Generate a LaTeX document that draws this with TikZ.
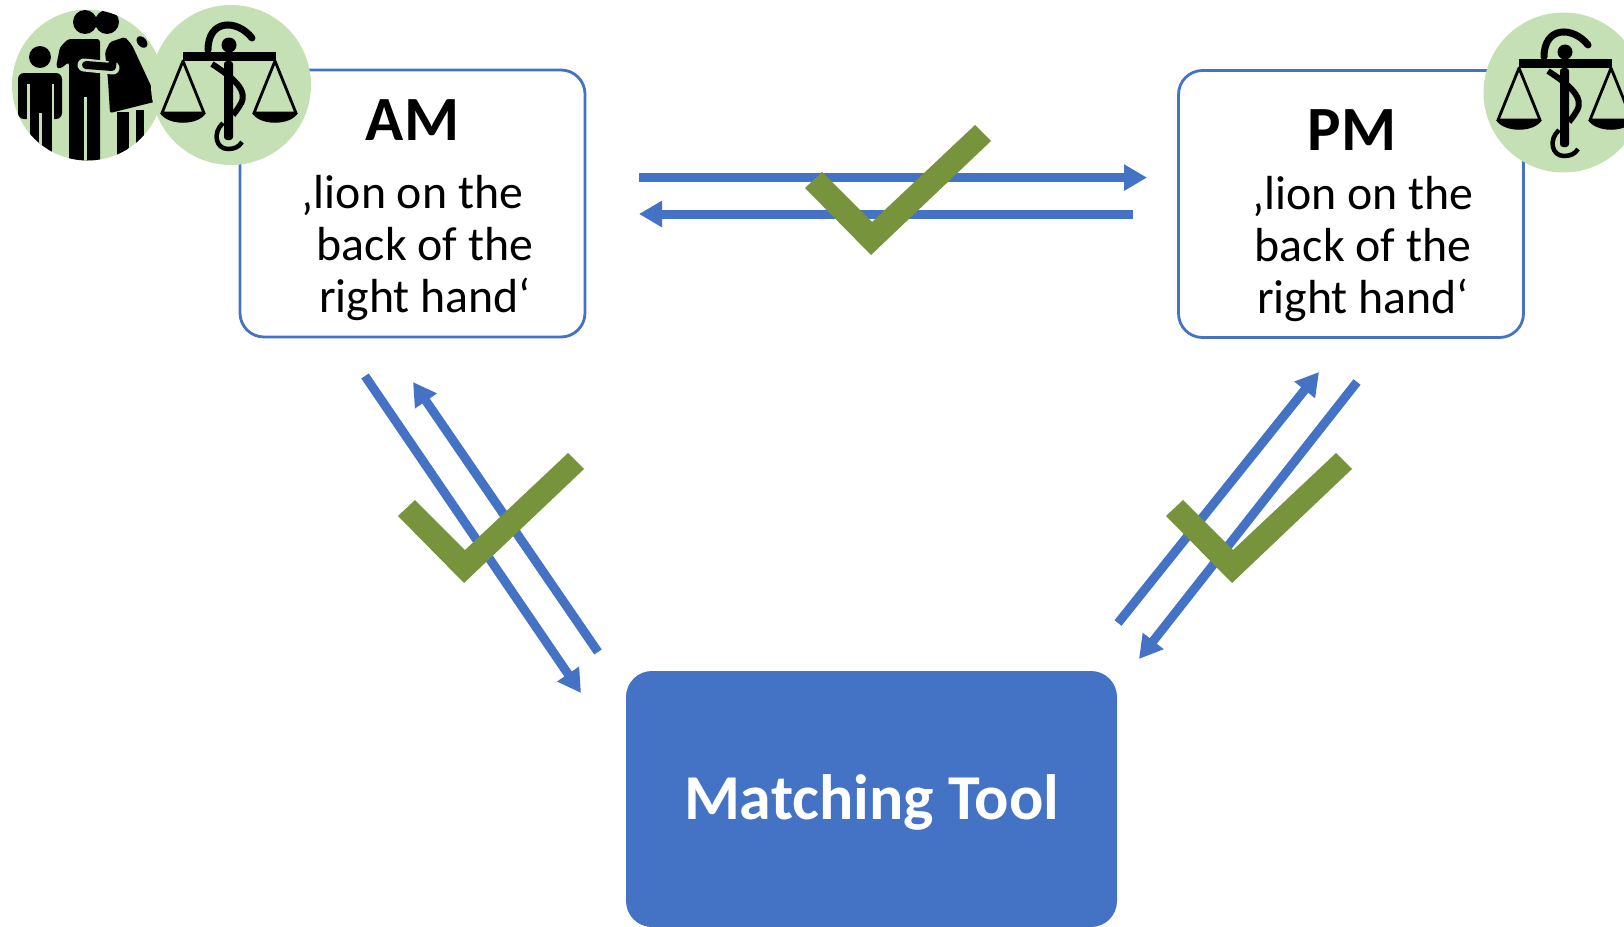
\documentclass[tikz,border=0pt]{standalone}
\usepackage{fontspec}
\setmainfont{Carlito}
\usetikzlibrary{arrows.meta}

\definecolor{toolblue}{HTML}{4472C4}
\definecolor{tickgreen}{HTML}{77933C}
\definecolor{dotgreen}{HTML}{C5E0B4}

\tikzset{
	rolebox/.style={draw=toolblue, line width=2.8pt, rounded corners=24pt, fill=white, minimum width=345pt, minimum height=267pt, inner sep=0pt},
	toolbox/.style={fill=toolblue, rounded corners=26pt, minimum width=491pt, minimum height=256pt, inner sep=0pt},
	tooltitle/.style={inner sep=0pt, text=white, font=\fontsize{64}{70}\selectfont\bfseries},
	roletitle/.style={inner sep=0pt, font=\fontsize{63}{70}\selectfont\bfseries},
	rolebody/.style={inner sep=0pt, align=center, font=\fontsize{47.8}{52}\selectfont},
	greendot/.style={circle, fill=dotgreen, minimum size=160pt, inner sep=0pt},
	flow/.style={draw=toolblue, line width=9pt, -{Triangle[length=23pt,width=25pt]}},
}

\newcommand{\pchecktick}[2]{
	\fill[tickgreen] (#1-66,#2-67) -- (#1-49,#2-83) -- (#1+1,#2-33) -- (#1+104,#2-130) -- (#1+120,#2-114) -- (#1,#2) -- cycle;
}

\newcommand{\pscales}[2]{
	\begin{scope}[shift={(#1,#2)}]
	\fill[black] (-49,-33) rectangle (44,-24);
	\fill[black] (-3,-40) circle (7.5);
	\draw[line width=7pt, line cap=round] (-24,-35) .. controls (-24,-66) and (5,-66) .. (20,-47);
	\fill[black, rounded corners=3pt] (-8,-24) rectangle (1,55);
	\draw[line width=6pt] (-20,-21) .. controls (0,-8) and (18,6) .. (8,20) .. controls (6,24) and (3,27) .. (1,30);
	\draw[line width=4.5pt] (-9,38) .. controls (-20,48) and (-16,64) .. (-4,64) .. controls (2,64) and (7,62) .. (10,57);
	\foreach \panx in {-49,43} {
		\draw[line width=2.8pt, line join=round] (\panx,-24) -- (\panx-21,28) -- (\panx+21,28) -- cycle;
		\fill[black] (\panx-23,28) .. controls (\panx-15,41) and (\panx+15,41) .. (\panx+23,28) -- cycle;
	}
	\end{scope}
}

\newcommand{\pfamily}{
	\begin{scope}
	\clip (87.5,85) circle (75.5);
	% child
	\fill[black] (40,57) circle (11);
	\fill[black, rounded corners=6pt] (18,73) rectangle (62,119);
	\fill[black] (30,80) rectangle (52,165);
	\draw[dotgreen, line width=3pt] (28.5,84) -- (28.5,125);
	\draw[dotgreen, line width=2pt] (52.5,84) -- (52.5,125);
	\draw[dotgreen, line width=2.5pt] (40.5,113) -- (40.5,165);
	% man
	\fill[black] (85,22) circle (12);
	\fill[black, rounded corners=3pt] (56,67) -- (60,47) -- (68,39) -- (100,39) -- (100,165) -- (69,165) -- (69,62) -- (60,69) -- cycle;
	\draw[dotgreen, line width=3pt] (85,97) -- (85,165);
	% woman
	\fill[black] (107,22) circle (12);
	\fill[black, rounded corners=2pt] (105,52) -- (110,42) -- (125,37) -- (132,45) -- (158,101) -- (110,113) -- (108,80) -- cycle;
	\fill[black] (117,112) rectangle (129,165);
	\fill[black] (136,110) rectangle (144,165);
	\fill[black, rotate around={40:(142,42)}] (142,42) ellipse (4.5 and 6.5);
	\draw[dotgreen, line width=13pt, line cap=round] (84,65) -- (113,68);
	\draw[black, line width=8pt, line cap=round, line join=round] (86,65) -- (112,67) -- (114,50);
	\end{scope}
}

\begin{document}
\begin{tikzpicture}[x=1pt, y=-1pt]
\clip (0,0) rectangle (1624,926);

\node[rolebox] (amBox) at (412.5,203.5) {};
\node[rolebox] (pmBox) at (1351,204) {};
\node[toolbox] (toolBox) at (871.5,799) {};
\node[tooltitle] (toolTitle) at (871.5,802) {Matching Tool};

\node[roletitle] (amTitle) at (412.5,120) {AM};
\node[rolebody] (amBody) at (425,248) {\hspace*{-25pt}‚lion on the\\back of the\\right hand‘};
\node[roletitle] (pmTitle) at (1352,130) {PM};
\node[rolebody] (pmBody) at (1363,249) {‚lion on the\\back of the\\right hand‘};

\node[greendot, minimum size=151pt] (famDot) at (87.5,85) {};
\pfamily
\node[greendot] (amDot) at (231,85) {};
\pscales{232}{85}
\node[greendot] (pmDot) at (1563.5,92.5) {};
\pscales{1568}{92}

\coordinate (amOutA) at (639,177.6);
\coordinate (pmInA) at (1147,177.6);
\coordinate (pmOutA) at (1133,214);
\coordinate (amInA) at (639,214);
\coordinate (amOutB) at (365,376);
\coordinate (toolInB) at (581,693);
\coordinate (toolOutB) at (598,652);
\coordinate (amInB) at (413,382);
\coordinate (toolOutC) at (1118,623);
\coordinate (pmInC) at (1319,372);
\coordinate (pmOutC) at (1357,382);
\coordinate (toolInC) at (1139,659);

\draw[flow] (amOutA) -- (pmInA);
\draw[flow] (pmOutA) -- (amInA);
\draw[flow] (amOutB) -- (toolInB);
\draw[flow] (toolOutB) -- (amInB);
\draw[flow] (toolOutC) -- (pmInC);
\draw[flow] (pmOutC) -- (toolInC);

\pchecktick{871}{255}
\pchecktick{464}{583}
\pchecktick{1232}{583}
\end{tikzpicture}
\end{document}
